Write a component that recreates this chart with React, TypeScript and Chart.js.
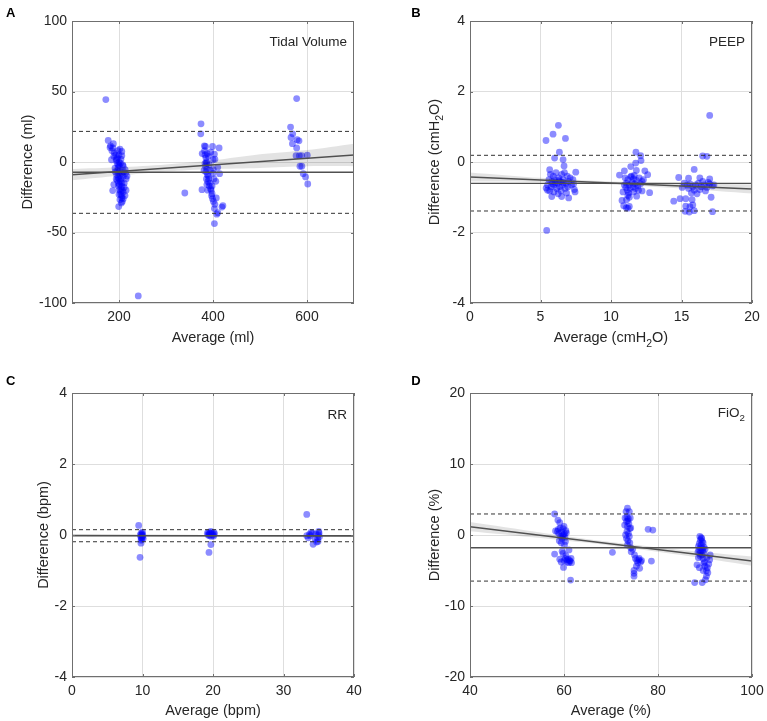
import React, { useEffect, useRef } from "react";
import { Chart, registerables } from "chart.js";
Chart.register(...registerables);

type Pt = [number, number];
type Seg = [string, boolean];

// ---------- Panel A: Tidal Volume ----------
const tidalXTicks = [200, 400, 600];
const tidalYTicks = [-100, -50, 0, 50, 100];
const tidalPoints: Pt[] = [
  [172, 44.3], [177, 15.3], [182, 11.5], [188, 13], [187, 10], [181, 10.3], [185, 8], [190, 6.5],
  [202, 9.2], [206, 7.5], [206, 4.5], [189, 4], [194, 1], [184, 1.6], [193, 5], [197, 3],
  [199, -2], [209, -3], [213, -5.5], [191.5, -4.3], [200.7, -6.6], [205.7, -7.8], [195, -9],
  [209, -10.2], [215, -12], [189, -16], [198.5, -14.9], [205.7, -17.3], [200.7, -19.6],
  [186.6, -20.3], [209, -21.3], [203.6, -23.1], [212.8, -23.8], [205.7, -25.5], [202, -26.7],
  [199.4, -31.6], [209, -26], [196, -1], [198, -4], [201, -3], [203, -1], [197, -6], [199, -8],
  [202, -10], [204, -12], [200, -12], [198, -11], [203, -14], [206, -15], [201, -16], [204, -19],
  [199, -17], [207, -20], [203, -21], [200, -23], [206, -24], [196, -13], [210, -7], [211, -15],
  [214, -8], [217, -10], [195, 2], [200, 0], [204, 2], [208, -2], [192, -7], [194, -12], [198, 8],
  [200, 5], [211, -18], [215, -20], [207, -28], [205, -29], [241, -95],
  [374.5, 27.1], [374, 20], [381.6, 11.5], [384, 11], [399, 11], [413, 10], [377, 6], [383, 5],
  [403, 5.6], [400, 1.6], [404, 2], [410, -3.8], [414, -8.3], [406, -13.7], [376.6, -19.6],
  [340, -22], [398, -22.5], [396, -20], [407, -25.5], [419, -32], [421, -31], [403, -33],
  [408, -37], [403, -43.7], [410, -36], [382, 8], [385, 3], [386, 0], [384, -3], [387, -5],
  [385, -7], [388, -9], [386, -12], [389, -14], [390, -10], [387, -16], [392, -17], [391, -12],
  [393, -15], [395, -19], [397, -24], [399, -26], [401, -28], [398, -17], [394, -6], [392, -2],
  [390, 4], [388, 6], [395, 7], [400, -8], [402, -12], [404, -30], [383, -1], [381, -6],
  [389, -20], [386.6, -0.7], [400.7, -5.5],
  [578, 45], [565, 24.8], [569.6, 20], [566, 17.4], [579, 15.8], [583, 15], [569, 13], [578, 10],
  [576.7, 4.5], [583.7, 4.5], [588.7, 4.5], [600.6, 4.8], [585, -3], [589, -3], [592, -8.3],
  [597, -10.6], [601.6, -15.6],
];
const tidalMean = -7.3;
const tidalLimits = [21.7, -36.4];
const tidalRegression: Pt[] = [[100, -9], [700, 5]];
const tidalBandUpper: Pt[] = [[100, -5], [200, -3.8], [300, -1.8], [400, 1.2], [500, 5.5], [600, 8.5], [700, 13]];
const tidalBandLower: Pt[] = [[100, -13], [200, -9.8], [300, -6.8], [400, -5], [500, -4.2], [600, -3], [700, -3]];

// ---------- Panel B: PEEP ----------
const peepXTicks = [0, 5, 10, 15, 20];
const peepYTicks = [-4, -2, 0, 2, 4];
const peepPoints: Pt[] = [
  [5.44, -1.94], [5.39, 0.61], [5.89, 0.79], [6.27, 1.04], [6.77, 0.67], [6.34, 0.28], [6.0, 0.11],
  [6.6, 0.07], [6.67, -0.11], [5.65, -0.22], [7.5, -0.29], [5.8, -0.98], [6.5, -0.98], [7.0, -1.02],
  [7.4, -0.78], [5.4, -0.74], [5.7, -0.35], [5.9, -0.4], [6.1, -0.3], [6.3, -0.45], [6.5, -0.35],
  [6.7, -0.3], [6.9, -0.4], [7.1, -0.45], [7.3, -0.5], [5.6, -0.5], [5.8, -0.55], [6.0, -0.5],
  [6.2, -0.6], [6.4, -0.55], [6.6, -0.5], [6.8, -0.6], [7.0, -0.55], [7.2, -0.65], [5.5, -0.65],
  [5.75, -0.7], [5.95, -0.65], [6.15, -0.75], [6.35, -0.7], [6.55, -0.65], [6.75, -0.75],
  [6.95, -0.7], [7.35, -0.62], [5.65, -0.82], [5.95, -0.85], [6.25, -0.9], [6.45, -0.82],
  [6.85, -0.88], [7.45, -0.85], [6.05, -0.58], [6.3, -0.52], [5.85, -0.62], [6.6, -0.58], [5.5, -0.8],
  [11.77, 0.28], [12.1, 0.18], [12.13, 0.04], [11.75, -0.03], [11.4, -0.13], [10.95, -0.25],
  [11.8, -0.24], [12.4, -0.25], [10.6, -0.37], [12.6, -0.36], [10.78, -1.09], [11.1, -1.07],
  [11.3, -1.0], [11.2, -0.95], [11.82, -0.97], [11.08, -1.3], [10.9, -1.24], [11.2, -1.31],
  [11.3, -1.26], [12.74, -0.87], [10.85, -0.85], [11.6, -0.85], [12.2, -0.82], [11.0, -0.45],
  [11.2, -0.5], [11.4, -0.42], [11.6, -0.48], [11.8, -0.52], [12.0, -0.45], [12.2, -0.55],
  [11.1, -0.6], [11.3, -0.65], [11.5, -0.58], [11.7, -0.62], [11.9, -0.68], [12.1, -0.62],
  [12.3, -0.5], [11.05, -0.72], [11.35, -0.75], [11.55, -0.7], [11.75, -0.75], [11.95, -0.8],
  [11.45, -0.4], [11.65, -0.38], [11.25, -0.88], [11.15, -0.8], [10.95, -0.65],
  [17.0, 1.32], [16.5, 0.17], [16.8, 0.16], [15.9, -0.21], [14.8, -0.44], [15.5, -0.46],
  [16.3, -0.45], [17.0, -0.48], [14.45, -1.11], [14.9, -1.04], [15.3, -1.04], [15.75, -1.07],
  [17.1, -1.0], [15.3, -1.25], [15.6, -1.27], [15.8, -1.22], [15.26, -1.4], [15.55, -1.42],
  [15.9, -1.38], [17.2, -1.41], [15.2, -0.6], [15.4, -0.65], [15.6, -0.62], [15.8, -0.7],
  [16.0, -0.65], [16.2, -0.6], [16.4, -0.7], [16.6, -0.65], [16.8, -0.72], [17.0, -0.62],
  [17.2, -0.68], [15.5, -0.75], [15.9, -0.8], [16.3, -0.78], [16.7, -0.82], [16.1, -0.9],
  [15.7, -0.88], [16.5, -0.55], [16.9, -0.58], [15.05, -0.72], [17.3, -0.65],
];
const peepMean = -0.605;
const peepLimits = [0.19, -1.39];
const peepRegression: Pt[] = [[0, -0.425], [20, -0.765]];
const peepBandUpper: Pt[] = [[0, -0.295], [5, -0.45], [10, -0.555], [15, -0.61], [20, -0.635]];
const peepBandLower: Pt[] = [[0, -0.555], [5, -0.57], [10, -0.635], [15, -0.75], [20, -0.895]];

// ---------- Panel C: RR ----------
const rrXTicks = [0, 10, 20, 30, 40];
const rrYTicks = [-4, -2, 0, 2, 4];
const rrPoints: Pt[] = [
  [9.46, 0.27], [9.79, -0.23], [9.65, -0.63], [9.8, 0.05], [9.9, 0.0], [10.0, -0.05], [9.85, -0.08],
  [9.95, 0.03], [10.05, -0.02], [9.75, -0.05], [9.9, -0.12], [10.0, 0.08], [9.8, -0.15], [9.7, 0.0],
  [10.1, -0.1],
  [19.2, 0.05], [19.4, 0.08], [19.6, 0.05], [19.8, 0.02], [20.0, 0.0], [20.2, 0.03], [19.3, 0.0],
  [19.5, -0.02], [19.7, 0.1], [19.9, 0.06], [20.1, -0.03], [19.45, 0.02], [19.75, -0.04],
  [20.15, 0.07], [19.7, -0.27], [19.43, -0.49],
  [33.3, 0.58], [33.3, -0.02], [33.67, 0.02], [34.1, 0.05], [34.6, 0.03], [34.2, -0.26],
  [34.85, -0.1], [34.95, 0.0], [35.05, 0.05], [34.9, -0.18], [33.5, -0.08], [33.9, 0.07],
  [34.5, -0.12], [35.1, -0.05], [33.8, -0.02], [34.7, -0.2], [35.0, 0.1],
];
const rrMean = -0.02;
const rrLimits = [0.15, -0.19];
const rrRegression: Pt[] = [[0, -0.01], [40, -0.025]];
const rrBandUpper: Pt[] = [[0, 0.01], [20, -0.01], [40, 0.0]];
const rrBandLower: Pt[] = [[0, -0.03], [20, -0.03], [40, -0.05]];

// ---------- Panel D: FiO2 ----------
const fioXTicks = [40, 60, 80, 100];
const fioYTicks = [-20, -10, 0, 10, 20];
const fioPoints: Pt[] = [
  [58.0, 2.96], [58.7, 2.1], [59.1, 1.74], [58.2, 0.56], [58.0, -2.68], [59.8, -2.6], [61.06, -2.1],
  [60.1, -1.4], [59.4, -3.8], [59.9, -4.56], [61.4, -6.35], [59.1, -3.4], [58.8, 0.8], [59.2, 1.0],
  [59.5, 0.4], [59.8, 0.9], [60.1, 0.2], [60.4, 0.6], [59.3, -0.2], [59.6, -0.5], [59.9, 0.0],
  [60.2, -0.3], [60.5, 0.3], [59.0, -0.8], [59.4, -1.1], [58.9, 0.2], [60.0, 1.2], [59.7, -0.1],
  [60.3, -0.9], [58.6, 0.5], [60.3, -3.3], [60.6, -3.5], [60.9, -3.4], [61.2, -3.6], [61.5, -3.3],
  [60.7, -3.8], [61.0, -3.9], [61.3, -3.7], [60.4, -2.9], [61.6, -3.9], [60.0, -3.6], [59.6, -2.3],
  [73.5, 3.77], [73.2, 3.3], [73.9, 3.3], [73.0, 2.4], [73.4, 2.5], [73.7, 2.3], [74.1, 2.4],
  [73.6, 2.0], [73.3, 1.9], [73.8, 1.6], [73.5, 1.2], [74.0, 0.9], [73.4, 0.5], [73.7, 0.2],
  [73.9, -0.2], [73.3, -0.5], [73.6, -0.8], [74.0, -1.1], [73.5, -1.4], [70.3, -2.44], [74.3, -2.35],
  [75.0, -2.8], [75.2, -3.3], [75.5, -3.6], [75.9, -3.5], [76.3, -3.8], [76.0, -3.3], [75.7, -3.9],
  [76.5, -3.6], [74.9, -5.0], [74.9, -5.4], [74.9, -5.8], [76.1, -4.7], [75.4, -4.4], [78.6, -3.67],
  [77.9, 0.8], [78.9, 0.7], [74.2, -1.8], [74.6, -2.0], [72.9, 1.4], [74.2, 1.0], [73.1, 0.0],
  [89.2, -0.38], [89.0, -0.7], [89.4, -0.9], [88.8, -1.2], [89.2, -1.4], [89.6, -1.1], [88.6, -1.6],
  [89.0, -1.8], [89.4, -1.9], [89.8, -1.7], [88.7, -2.1], [89.1, -2.3], [89.5, -2.2], [88.9, -2.6],
  [89.3, -2.8], [89.7, -2.5], [88.5, -2.4], [90.0, -2.0], [87.8, -6.7], [89.4, -6.7], [91.1, -2.8],
  [88.3, -4.2], [88.8, -4.6], [90.0, -4.4], [90.3, -5.0], [90.6, -5.3], [90.3, -5.8], [90.1, -6.3],
  [91.0, -3.5], [89.6, -3.3], [89.0, -3.0], [89.9, -3.8], [90.5, -4.6], [89.7, -4.0], [90.8, -4.1],
  [88.6, -3.2], [89.3, -0.5], [88.9, -0.2], [89.6, -5.0], [90.4, -3.2],
];
const fioMean = -1.79;
const fioLimits = [2.96, -6.49];
const fioRegression: Pt[] = [[40, 1.17], [100, -3.67]];
const fioBandUpper: Pt[] = [[40, 1.82], [55, 0.36], [70, -1.0], [85, -2.11], [100, -3.02]];
const fioBandLower: Pt[] = [[40, 0.52], [55, -0.44], [70, -1.5], [85, -2.81], [100, -4.32]];

// ---------- styling ----------
const FONT = '"Liberation Sans", Arial, Helvetica, sans-serif';
const TEXT = "#262626";
const BOX = "#6f6f6f";
const GRID = "#dedede";
const LINE = "#505050";
const TICK_SIZE = 14;
const TITLE_SIZE = 14.5;

interface PanelCfg {
  letter: string;
  left: number; top: number; width: number; height: number;
  area: { left: number; top: number; right: number; bottom: number };
  xRange: [number, number]; yRange: [number, number];
  xTicks: number[]; yTicks: number[];
  xTitle: Seg[]; yTitle: Seg[]; label: Seg[];
  yTitleX: number; xTitleY: number; labelY: number; letterX: number; letterY: number;
  points: Pt[]; mean: number; limits: number[]; regression: Pt[];
  bandUpper: Pt[]; bandLower: Pt[];
}

const panels: PanelCfg[] = [
  {
    letter: "A", left: 0, top: 0, width: 383, height: 360,
    area: { left: 72, top: 21, right: 354, bottom: 303 },
    xRange: [100, 700], yRange: [-100, 100], xTicks: tidalXTicks, yTicks: tidalYTicks,
    xTitle: [["Average (ml)", false]], yTitle: [["Difference (ml)", false]], label: [["Tidal Volume", false]],
    yTitleX: 27, xTitleY: 337.3, labelY: 41.3, letterX: 6, letterY: 17.4,
    points: tidalPoints, mean: tidalMean, limits: tidalLimits, regression: tidalRegression,
    bandUpper: tidalBandUpper, bandLower: tidalBandLower,
  },
  {
    letter: "B", left: 383, top: 0, width: 384, height: 360,
    area: { left: 87, top: 21, right: 369, bottom: 303 },
    xRange: [0, 20], yRange: [-4, 4], xTicks: peepXTicks, yTicks: peepYTicks,
    xTitle: [["Average (cmH", false], ["2", true], ["O)", false]],
    yTitle: [["Difference (cmH", false], ["2", true], ["O)", false]],
    label: [["PEEP", false]],
    yTitleX: 50.7, xTitleY: 337.3, labelY: 41.3, letterX: 28.3, letterY: 17.4,
    points: peepPoints, mean: peepMean, limits: peepLimits, regression: peepRegression,
    bandUpper: peepBandUpper, bandLower: peepBandLower,
  },
  {
    letter: "C", left: 0, top: 360, width: 383, height: 361,
    area: { left: 72, top: 33, right: 354, bottom: 317 },
    xRange: [0, 40], yRange: [-4, 4], xTicks: rrXTicks, yTicks: rrYTicks,
    xTitle: [["Average (bpm)", false]], yTitle: [["Difference (bpm)", false]], label: [["RR", false]],
    yTitleX: 42.7, xTitleY: 349.5, labelY: 54, letterX: 6, letterY: 25,
    points: rrPoints, mean: rrMean, limits: rrLimits, regression: rrRegression,
    bandUpper: rrBandUpper, bandLower: rrBandLower,
  },
  {
    letter: "D", left: 383, top: 360, width: 384, height: 361,
    area: { left: 87, top: 33, right: 369, bottom: 317 },
    xRange: [40, 100], yRange: [-20, 20], xTicks: fioXTicks, yTicks: fioYTicks,
    xTitle: [["Average (%)", false]], yTitle: [["Difference (%)", false]],
    label: [["FiO", false], ["2", true]],
    yTitleX: 50.7, xTitleY: 349.5, labelY: 51.7, letterX: 28.3, letterY: 25,
    points: fioPoints, mean: fioMean, limits: fioLimits, regression: fioRegression,
    bandUpper: fioBandUpper, bandLower: fioBandLower,
  },
];

function fontOf(size: number, weight = "normal") {
  return `${weight} ${size}px ${FONT}`;
}

function richWidth(ctx: CanvasRenderingContext2D, segs: Seg[], size: number, weight = "normal") {
  let w = 0;
  for (const [t, sub] of segs) {
    ctx.font = fontOf(sub ? size * 0.72 : size, weight);
    w += ctx.measureText(t).width;
  }
  return w;
}

function drawRich(
  ctx: CanvasRenderingContext2D, segs: Seg[], x: number, baseline: number,
  align: "left" | "center" | "right", size: number, weight = "normal"
) {
  const w = richWidth(ctx, segs, size, weight);
  let cx = align === "left" ? x : align === "center" ? x - w / 2 : x - w;
  ctx.textAlign = "left";
  ctx.textBaseline = "alphabetic";
  for (const [t, sub] of segs) {
    const fs = sub ? size * 0.72 : size;
    ctx.font = fontOf(fs, weight);
    ctx.fillText(t, cx, baseline + (sub ? size * 0.3 : 0));
    cx += ctx.measureText(t).width;
  }
}

const toXY = (arr: Pt[]) => arr.map(([x, y]) => ({ x, y }));

function Panel({ cfg }: { cfg: PanelCfg }) {
  const ref = useRef<HTMLCanvasElement>(null);
  useEffect(() => {
    const canvas = ref.current;
    if (!canvas) return;
    const [xMin, xMax] = cfg.xRange;
    const [yMin, yMax] = cfg.yRange;

    const decor = {
      id: "decor",
      afterDraw(chart: any) {
        const ctx: CanvasRenderingContext2D = chart.ctx;
        const { left, top, right, bottom } = chart.chartArea;
        const xs = chart.scales.x;
        const ys = chart.scales.y;
        ctx.save();
        ctx.strokeStyle = BOX;
        ctx.lineWidth = 1;
        ctx.beginPath();
        for (const v of cfg.xTicks) {
          const px = Math.round(xs.getPixelForValue(v)) + 0.5;
          ctx.moveTo(px, bottom);
          ctx.lineTo(px, bottom - 3);
          ctx.moveTo(px, top);
          ctx.lineTo(px, top + 3);
        }
        for (const v of cfg.yTicks) {
          const py = Math.round(ys.getPixelForValue(v)) + 0.5;
          ctx.moveTo(left, py);
          ctx.lineTo(left + 3, py);
          ctx.moveTo(right, py);
          ctx.lineTo(right - 3, py);
        }
        ctx.stroke();
        ctx.strokeRect(left + 0.5, top + 0.5, right - left - 1, bottom - top - 1);
        ctx.fillStyle = TEXT;
        const midX = (left + right) / 2;
        const midY = (top + bottom) / 2;
        drawRich(ctx, cfg.xTitle, midX, cfg.xTitleY + TITLE_SIZE * 0.358, "center", TITLE_SIZE);
        ctx.save();
        ctx.translate(cfg.yTitleX, midY);
        ctx.rotate(-Math.PI / 2);
        drawRich(ctx, cfg.yTitle, 0, TITLE_SIZE * 0.358, "center", TITLE_SIZE);
        ctx.restore();
        drawRich(ctx, cfg.label, right - 7, cfg.labelY + 13.5 * 0.358, "right", 13.5);
        ctx.fillStyle = "#000";
        drawRich(ctx, [[cfg.letter, false]], cfg.letterX, cfg.letterY, "left", 13, "bold");
        ctx.restore();
      },
    };

    const chart = new Chart(canvas, {
      type: "scatter",
      data: {
        datasets: [
          {
            type: "line", data: toXY(cfg.regression), borderColor: LINE, borderWidth: 1.4,
            pointRadius: 0, fill: false,
          },
          {
            type: "line", data: toXY([[xMin, cfg.mean], [xMax, cfg.mean]]), borderColor: LINE,
            borderWidth: 1.4, pointRadius: 0, fill: false,
          },
          {
            type: "line", data: toXY([[xMin, cfg.limits[0]], [xMax, cfg.limits[0]]]), borderColor: "#333333",
            borderWidth: 1, borderDash: [4, 3], pointRadius: 0, fill: false,
          },
          {
            type: "line", data: toXY([[xMin, cfg.limits[1]], [xMax, cfg.limits[1]]]), borderColor: "#333333",
            borderWidth: 1, borderDash: [4, 3], pointRadius: 0, fill: false,
          },
          {
            type: "line", data: toXY(cfg.bandUpper), borderColor: "rgba(0,0,0,0)", borderWidth: 0,
            pointRadius: 0, fill: "+1", backgroundColor: "rgba(0,0,0,0.11)", tension: 0.3,
          },
          {
            type: "line", data: toXY(cfg.bandLower), borderColor: "rgba(0,0,0,0)", borderWidth: 0,
            pointRadius: 0, fill: false, tension: 0.3,
          },
          {
            type: "scatter", data: toXY(cfg.points), backgroundColor: "rgba(0,0,255,0.45)",
            borderWidth: 0, pointRadius: 3.4, pointHoverRadius: 3.4,
          },
        ] as any,
      },
      options: {
        animation: false,
        responsive: false,
        devicePixelRatio: 1,
        events: [],
        layout: {
          padding: { left: 0, bottom: 0, top: cfg.area.top, right: cfg.width - cfg.area.right },
        },
        plugins: { legend: { display: false }, tooltip: { enabled: false } },
        scales: {
          x: {
            type: "linear", min: xMin, max: xMax,
            afterBuildTicks: (s: any) => { s.ticks = cfg.xTicks.map((v) => ({ value: v })); },
            afterFit: (s: any) => {
              s.height = cfg.height - cfg.area.bottom;
              s.paddingLeft = 0;
              s.paddingRight = 0;
            },
            grid: { color: GRID, drawTicks: false, lineWidth: 1 },
            border: { display: false },
            ticks: {
              color: TEXT, font: { family: FONT, size: TICK_SIZE }, padding: 6,
              maxRotation: 0, autoSkip: false, callback: (v: any) => String(v),
            },
          },
          y: {
            type: "linear", min: yMin, max: yMax,
            afterBuildTicks: (s: any) => { s.ticks = cfg.yTicks.map((v) => ({ value: v })); },
            afterFit: (s: any) => {
              s.width = cfg.area.left;
              s.paddingTop = 0;
              s.paddingBottom = 0;
            },
            grid: { color: GRID, drawTicks: false, lineWidth: 1 },
            border: { display: false },
            ticks: {
              color: TEXT, font: { family: FONT, size: TICK_SIZE }, padding: 5,
              autoSkip: false, callback: (v: any) => String(v),
            },
          },
        },
      } as any,
      plugins: [decor],
    });
    return () => chart.destroy();
  }, [cfg]);

  return (
    <div style={{ position: "absolute", left: cfg.left, top: cfg.top, width: cfg.width, height: cfg.height }}>
      <canvas
        ref={ref}
        width={cfg.width}
        height={cfg.height}
        style={{ display: "block", width: cfg.width, height: cfg.height }}
      />
    </div>
  );
}

export default function App() {
  return (
    <div style={{ position: "absolute", left: 0, top: 0, width: 767, height: 721, background: "#fff" }}>
      {panels.map((p) => (
        <Panel key={p.letter} cfg={p} />
      ))}
    </div>
  );
}
